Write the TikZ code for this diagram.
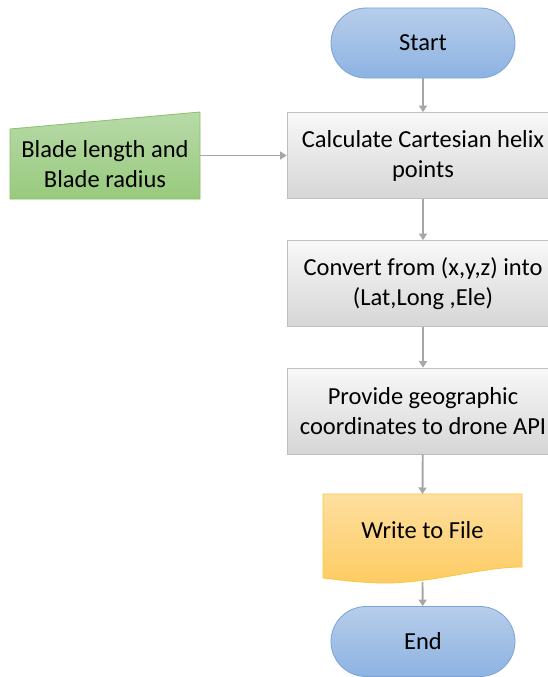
\documentclass[tikz,border=0pt]{standalone}
\usepackage{fontspec}
\setmainfont{Carlito}
\usetikzlibrary{arrows.meta,shadings}

\definecolor{termtop}{HTML}{B7CDEA}
\definecolor{termbot}{HTML}{8DB3E2}
\definecolor{termline}{HTML}{7AA3D8}
\definecolor{proctop}{HTML}{F8F8F8}
\definecolor{procbot}{HTML}{D6D6D6}
\definecolor{procline}{HTML}{BFBFBF}
\definecolor{intop}{HTML}{B7DAA8}
\definecolor{inbot}{HTML}{98CA7C}
\definecolor{inline}{HTML}{8CBF6E}
\definecolor{doctop}{HTML}{FEDF9F}
\definecolor{docbot}{HTML}{FDCB62}
\definecolor{docline}{HTML}{F8C640}
\definecolor{flow}{HTML}{A6A6A6}

\tikzset{
  lbl/.style={font=\fontsize{24.5}{30}\selectfont, align=center, text=black},
  terminal/.style={lbl, rectangle, rounded corners=35pt, minimum width=184pt,
    minimum height=70pt, shade, top color=termtop, bottom color=termbot,
    draw=termline, line width=0.8pt},
  process/.style={lbl, rectangle, minimum width=272pt, minimum height=86pt,
    shade, top color=proctop, bottom color=procbot, draw=procline, line width=0.8pt},
  flowline/.style={draw=flow, line width=1.9pt,
    -{Triangle[width=8pt,length=6.5pt]}},
}

\begin{document}
\begin{tikzpicture}[x=1pt,y=-1pt]
  \useasboundingbox (0,0) rectangle (548,677);
  \clip (0,0) rectangle (548,677);
  \fill[white] (0,0) rectangle (548,677);

  % terminals and process boxes
  \node[terminal] (start) at (423,43) {Start};
  \node[process] (calc) at (423,155.5) {Calculate Cartesian helix\\points};
  \node[process] (conv) at (423,283.5) {Convert from (x,y,z) into\\(Lat,Long ,Ele)};
  \node[process] (prov) at (423,411) {Provide geographic\\coordinates to drone API};

  % manual input block
  \shade[top color=intop, bottom color=inbot, draw=inline, line width=0.8pt]
    (10,129) -- (200,112) -- (200,199) -- (10,199) -- cycle;
  \node[lbl, minimum width=190pt] (blade) at (105,164) {Blade length and\\Blade radius};

  % document block
  \shade[top color=doctop, bottom color=docbot, draw=docline, line width=0.8pt]
    (323,494) -- (522,494) -- (522,567)
    .. controls (480,567) and (430,584) .. (380,583)
    .. controls (350,582) and (335,579) .. (323,578) -- cycle;
  \node[lbl, minimum width=199pt] (write) at (422.5,530) {Write to File};
  \coordinate (writetop) at (422.5,494);
  \coordinate (writebot) at (422.5,582);

  \node[terminal] (end) at (423,641.5) {End};

  % connectors
  \draw[flowline] (start) -- (calc);
  \draw[flowline] (calc) -- (conv);
  \draw[flowline] (conv) -- (prov);
  \draw[flowline] (prov) -- (writetop);
  \draw[flowline] (writebot) -- (end);
  \draw[flowline] (calc.west -| blade.east) -- (calc.west);
\end{tikzpicture}
\end{document}
